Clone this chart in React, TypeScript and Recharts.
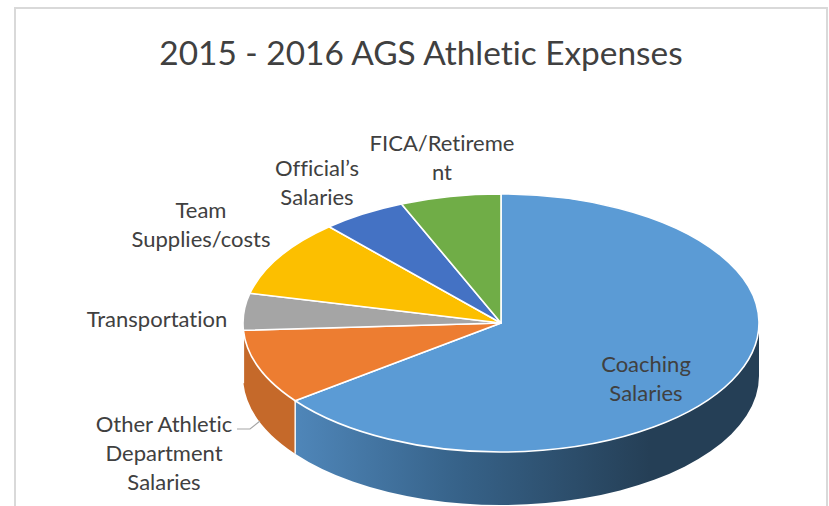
import React from 'react';
import { PieChart, Pie } from 'recharts';

const TITLE = '2015 - 2016 AGS Athletic Expenses';
const categories = ['Coaching Salaries', 'Other Athletic Department Salaries', 'Transportation', 'Team Supplies/costs', "Official's Salaries", 'FICA/Retirement'];
const values = [64.7, 9.4, 4.6, 9.7, 5.3, 6.3];
const labelLines = [['Coaching', 'Salaries'], ['Other Athletic', 'Department', 'Salaries'], ['Transportation'], ['Team', 'Supplies/costs'], ['Official\u2019s', 'Salaries'], ['FICA/Retireme', 'nt']];
const topColors = ['#5b9bd5', '#ed7d31', '#a5a5a5', '#fcbf00', '#4472c4', '#70ad47'];
const wallColors = ['url(#wallBlue)', '#c5692a', '#868686', '#c79500', '#35599a', '#578637'];

const data = categories.map((name, i) => ({ name, value: values[i], fill: topColors[i], wall: wallColors[i], lines: labelLines[i] }));

// layout (not data)
const W = 829, H = 506, CX = 501, CY = 323, R = 258, TILT = 0.5, DEPTH = 53;
const FONT = 'Lato, "Noto Sans", sans-serif';
const TEXT = '#404040';
const labelPos = [[646, 363], [164, 423], [157, 318], [201, 209], [317, 167], [442, 142]];
const LINE_H = 29;
const NOLIG = { fontVariantLigatures: 'none' } as React.CSSProperties;

const pt = (cx: number, cy: number, r: number, deg: number) => {
  const a = (deg * Math.PI) / 180;
  return [cx + r * Math.cos(a), cy - r * TILT * Math.sin(a)];
};

const TopFace = (p: any) => {
  const { cx, cy, outerRadius: r, startAngle: s, endAngle: e, fill } = p;
  const [x0, y0] = pt(cx, cy, r, s);
  const [x1, y1] = pt(cx, cy, r, e);
  const large = Math.abs(s - e) > 180 ? 1 : 0;
  return <path d={`M${cx},${cy}L${x0},${y0}A${r},${r * TILT} 0 ${large} 1 ${x1},${y1}Z`} fill={fill} stroke="#fff" strokeWidth={1.6} strokeLinejoin="round" />;
};

const Wall = (p: any) => {
  const { cx, cy, outerRadius: r, startAngle: s, endAngle: e, wall } = p;
  const a = Math.min(s, 0), b = Math.max(e, -180);
  if (a <= b) return <g />;
  const [x0, y0] = pt(cx, cy, r, a);
  const [x1, y1] = pt(cx, cy, r, b);
  return (
    <g>
      <path d={`M${x0},${y0}A${r},${r * TILT} 0 0 1 ${x1},${y1}L${x1},${y1 + DEPTH}A${r},${r * TILT} 0 0 0 ${x0},${y0 + DEPTH}Z`} fill={wall} />
      {a < 0 && <line x1={x0} y1={y0} x2={x0} y2={y0 + DEPTH} stroke="#fff" strokeWidth={1.4} />}
    </g>
  );
};

const renderLabel = (p: any) => {
  const i = p.index;
  const [x, y] = labelPos[i];
  return (
    <g key={i}>
      {i === 1 && <polyline points="237,429 250,429 260,421" fill="none" stroke="#a6a6a6" strokeWidth={1.2} />}
      {data[i].lines.map((t, k) => (
        <text key={k} x={x} y={y + k * LINE_H} textAnchor="middle" dominantBaseline="central" fontFamily={FONT} fontSize={22} fill={TEXT} style={NOLIG}>{t}</text>
      ))}
    </g>
  );
};

export default function App() {
  return (
    <div style={{ position: 'absolute', left: 0, top: 0, width: W, height: H, overflow: 'hidden', background: '#fff' }}>
      <PieChart width={W} height={H} margin={{ top: 0, right: 0, bottom: 0, left: 0 }}>
        <defs>
          <linearGradient id="wallBlue" gradientUnits="userSpaceOnUse" x1={295} y1={0} x2={650} y2={0}>
            <stop offset="0" stopColor="#4f86b9" />
            <stop offset="0.45" stopColor="#37638a" />
            <stop offset="1" stopColor="#253f56" />
          </linearGradient>
        </defs>
        <rect x={15} y={8} width={812} height={530} fill="#fff" stroke="#d9d9d9" strokeWidth={2} />
        <text x={421} y={52} textAnchor="middle" dominantBaseline="central" fontFamily={FONT} fontSize={33.4} fill={TEXT} style={NOLIG}>{TITLE}</text>
        <Pie data={data} dataKey="value" nameKey="name" cx={CX} cy={CY} innerRadius={0} outerRadius={R} startAngle={90} endAngle={-270} paddingAngle={0} stroke="none" isAnimationActive={false} shape={Wall} />
        <Pie data={data} dataKey="value" nameKey="name" cx={CX} cy={CY} innerRadius={0} outerRadius={R} startAngle={90} endAngle={-270} paddingAngle={0} isAnimationActive={false} shape={TopFace} label={renderLabel} labelLine={false} />
      </PieChart>
    </div>
  );
}
